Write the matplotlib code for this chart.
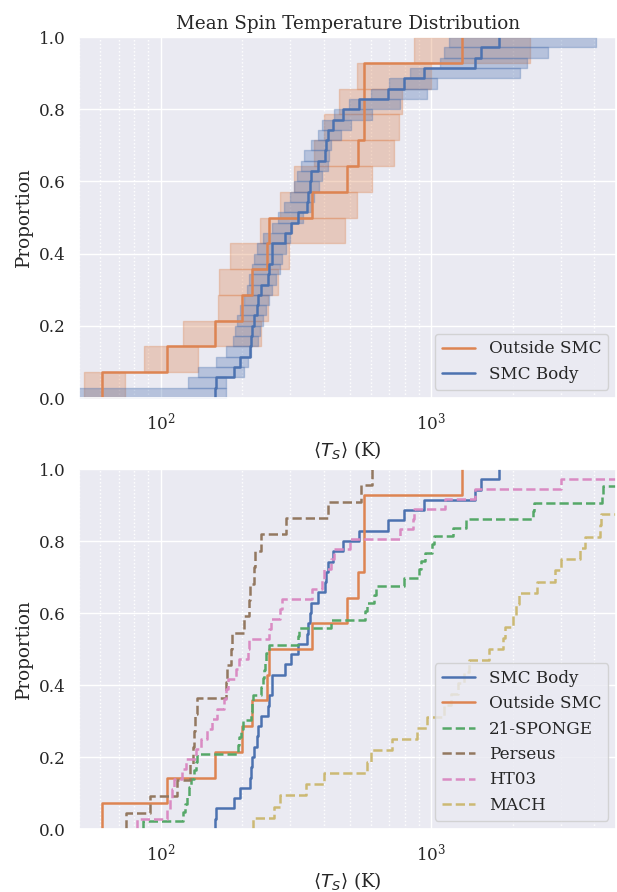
import numpy as np
import matplotlib
matplotlib.use("Agg")
import matplotlib.pyplot as plt
import seaborn as sns

# Mean spin temperatures (K)
smc_body = [159, 160, 186, 196, 214, 215, 217, 222, 228, 230, 234, 249, 252, 257, 259,
            287, 303, 322, 347, 349, 357, 359, 380, 405, 408, 414, 435, 470, 541, 691,
            791, 937, 1452, 1524, 1783]
outside_smc = [61, 106, 159, 200, 217, 248, 251, 364, 490, 537, 562, 564, 566, 1297]

# uncertainty band per ECDF level (lower / upper temperature)
smc_body_lo = [45, 126, 138, 160, 175, 185, 188, 192, 197, 203, 208, 213, 218, 222, 228,
               240, 258, 272, 285, 300, 310, 318, 330, 339, 359, 380, 396, 437, 495, 600,
               700, 837, 1075, 1110, 1157]
smc_body_hi = [175, 175, 204, 210, 215, 230, 232, 240, 245, 252, 258, 268, 275, 282, 290,
               300, 305, 335, 360, 370, 385, 396, 414, 418, 426, 463, 503, 604, 769, 964,
               1050, 2122, 2250, 2690, 4064]
outside_lo = [52, 87, 121, 163, 165, 180, 233, 275, 310, 368, 400, 455, 533, 860]
outside_hi = [74, 138, 235, 250, 271, 299, 480, 533, 603, 726, 757, 781, 1000, 2313]

# comparison surveys
sponge = [86, 121, 123, 125, 127, 130, 133, 135, 136, 193, 195, 198, 201, 216, 218, 220,
          235, 238, 242, 244, 246, 252, 321, 325, 425, 570, 577, 615, 622, 791, 898, 912,
          951, 1004, 1019, 1200, 1343, 2377, 2390, 4279, 4290, 6000, 7000]
perseus = [74.5, 91.4, 115, 128, 132, 133, 134, 136, 175, 176, 182, 184, 204, 212, 214,
           221, 223, 234, 290, 414, 548, 605]
ht03 = [81.6, 106, 108, 110, 112, 120, 124, 135, 141, 149, 155, 161, 172, 175, 177, 190,
        195, 210, 213, 252, 256, 275, 280, 364, 395, 402, 425, 437, 501, 769, 855, 861,
        1125, 1452, 3020, 6000]
mach = [219, 263, 275, 344, 402, 580, 597, 716, 885, 964, 1110, 1180, 1250, 1320, 1380,
        1630, 1845, 1870, 2010, 2060, 2110, 2449, 2860, 3020, 3530, 3680, 4200, 4246,
        5500, 6000, 7000, 8000]

sns.set_theme(style="darkgrid", font="serif", font_scale=1.1)
pal = sns.color_palette("deep")
blue, orange, green, brown, pink, yellow = pal[0], pal[1], pal[2], pal[5], pal[6], pal[8]
LW = 1.8

fig = plt.figure(figsize=(6.17, 8.92), dpi=100)
ax1 = fig.add_axes([0.128, 0.5538, 0.871, 0.4047])
ax2 = fig.add_axes([0.128, 0.0706, 0.871, 0.4036])


def band(ax, lo, hi, color):
    n = len(lo)
    for k in range(n):
        ax.fill_betweenx([k / n, (k + 1) / n], lo[k], hi[k], color=color, alpha=0.33)


# top panel
band(ax1, outside_lo, outside_hi, orange)
band(ax1, smc_body_lo, smc_body_hi, blue)
sns.ecdfplot(x=outside_smc, ax=ax1, color=orange, lw=LW, label="Outside SMC", log_scale=True)
sns.ecdfplot(x=smc_body, ax=ax1, color=blue, lw=LW, label="SMC Body", log_scale=True)
ax1.set_title("Mean Spin Temperature Distribution")
ax1.legend(loc="lower right")

# bottom panel
sns.ecdfplot(x=smc_body, ax=ax2, color=blue, lw=LW, label="SMC Body", log_scale=True)
sns.ecdfplot(x=outside_smc, ax=ax2, color=orange, lw=LW, label="Outside SMC", log_scale=True)
sns.ecdfplot(x=sponge, ax=ax2, color=green, lw=LW, ls="--", label="21-SPONGE", log_scale=True)
sns.ecdfplot(x=perseus, ax=ax2, color=brown, lw=LW, ls="--", label="Perseus", log_scale=True)
sns.ecdfplot(x=ht03, ax=ax2, color=pink, lw=LW, ls="--", label="HT03", log_scale=True)
sns.ecdfplot(x=mach, ax=ax2, color=yellow, lw=LW, ls="--", label="MACH", log_scale=True)
ax2.legend(loc="lower right")

for ax in (ax1, ax2):
    ax.set_xlim(50, 4820)
    ax.set_ylim(0, 1)
    ax.grid(which="minor", axis="x", ls=":", color="white", lw=1)
    ax.set_xlabel(r"$\langle T_S \rangle$ (K)")
    ax.set_ylabel("Proportion")

fig.savefig("out.png", dpi=100)
